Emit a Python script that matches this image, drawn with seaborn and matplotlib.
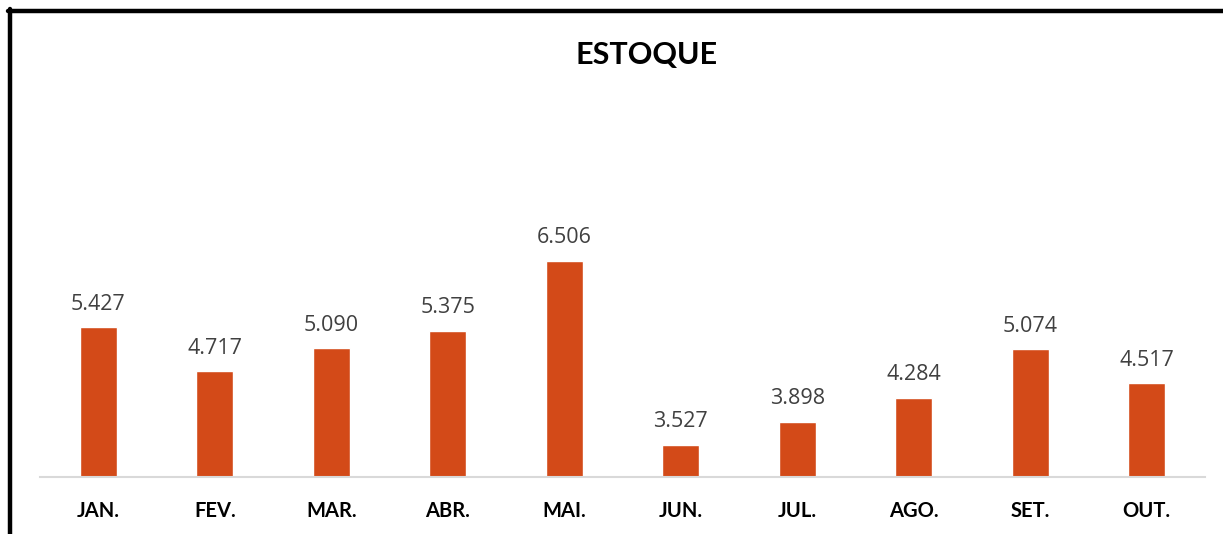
import matplotlib
matplotlib.use("Agg")
import matplotlib.pyplot as plt
from matplotlib.lines import Line2D
import pandas as pd
import seaborn as sns

## data
meses = ["JAN.", "FEV.", "MAR.", "ABR.", "MAI.", "JUN.", "JUL.", "AGO.", "SET.", "OUT."]
estoque = [5427, 4717, 5090, 5375, 6506, 3527, 3898, 4284, 5074, 4517]

df = pd.DataFrame({"mes": meses, "estoque": estoque})

sns.set_style("white")
plt.rcParams["font.family"] = ["Lato", "DejaVu Sans"]

W, H = 1223, 534
fig = plt.figure(figsize=(W / 100, H / 100), dpi=100)
ax = fig.add_axes([40 / W, (H - 477) / H, (1205 - 40) / W, (477 - 107) / H])

sns.barplot(data=df, x="mes", y="estoque", color="#D34A18", width=0.32,
            saturation=1, ax=ax)

ax.set_ylim(3000, 9000)
ax.set_xlim(-0.5, len(meses) - 0.5)
ax.set_xlabel("")
ax.set_ylabel("")
ax.set_yticks([])
for s in ["top", "right", "left"]:
    ax.spines[s].set_visible(False)
ax.spines["bottom"].set_color("#d9d9d9")
ax.spines["bottom"].set_linewidth(1.5)
ax.tick_params(axis="x", length=0, pad=17)
for lbl in ax.get_xticklabels():
    lbl.set_fontweight("bold")
    lbl.set_fontsize(14.5)
    lbl.set_color("black")

ax.bar_label(ax.containers[0],
             labels=[f"{v:,}".replace(",", ".") for v in estoque],
             padding=9, fontsize=15.5, color="#404040", family="Open Sans")

fig.text(647 / W, 1 - 55 / H, "ESTOQUE", ha="center", va="center",
         fontsize=22, fontweight="bold", color="black")

# moldura do grafico
fig.add_artist(Line2D([8 / W, 1], [1 - 11 / H, 1 - 11 / H], color="black",
                      lw=3.2, transform=fig.transFigure))
fig.add_artist(Line2D([10 / W, 10 / W], [0, 1 - 9 / H], color="black",
                      lw=3.2, transform=fig.transFigure))

fig.savefig("out.png", dpi=100, facecolor="white")
